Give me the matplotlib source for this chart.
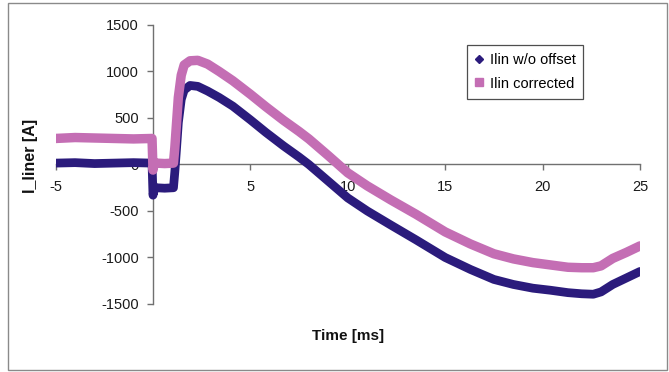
import matplotlib
matplotlib.use("Agg")
import matplotlib.pyplot as plt
from matplotlib.lines import Line2D
from matplotlib.patches import Rectangle

plt.rcParams['font.family'] = ['Liberation Sans', 'DejaVu Sans']

# Time [ms]
blue_t = [-5, -4, -3, -2, -1, -0.05, 0.0, 0.05, 0.15, 0.6, 1.05, 1.12, 1.2, 1.3, 1.45, 1.6, 1.9, 2.3, 2.8,
          3.4, 4.1, 5.0, 5.8, 6.7, 7.5, 8.0, 9.0, 10.0, 11.0, 12.2, 13.5, 15.0, 16.3, 17.5, 18.5, 19.5,
          20.4, 21.3, 22.0, 22.6, 23.0, 23.6, 24.3, 25.0]
# Ilin w/o offset [A]
blue_v = [15, 20, 10, 15, 20, 15, -330, -280, -250, -255, -250, -80, 150, 450, 700, 800, 850, 840, 790,
          720, 627, 480, 344, 200, 80, 0, -180, -360, -500, -650, -810, -1000, -1129, -1236, -1290, -1330,
          -1352, -1378, -1390, -1395, -1370, -1290, -1220, -1150]

pink_t = [-5, -4, -3, -2, -1, -0.05, 0.0, 0.05, 0.15, 0.6, 1.05, 1.12, 1.2, 1.3, 1.45, 1.6, 1.9, 2.3, 2.8,
          3.4, 4.1, 5.0, 5.8, 6.7, 7.5, 8.0, 9.0, 10.0, 11.0, 12.2, 13.5, 15.0, 16.3, 17.5, 18.5, 19.5,
          20.4, 21.3, 22.0, 22.6, 23.0, 23.6, 24.3, 25.0]
# Ilin corrected [A]
pink_v = [280, 290, 285, 280, 275, 280, -60, 0, 15, 10, 15, 180, 420, 720, 960, 1070, 1115, 1120, 1080,
          1000, 900, 755, 620, 475, 355, 275, 95, -90, -230, -380, -535, -725, -855, -960, -1015, -1055,
          -1080, -1105, -1110, -1110, -1090, -1010, -945, -875]

x_ticks = [-5, 0, 5, 10, 15, 20, 25]
y_ticks = [-1500, -1000, -500, 0, 500, 1000, 1500]

BLUE = '#2b1b7c'
PINK = '#c46eb4'

fig = plt.figure(figsize=(6.69, 3.72), dpi=100)
ax = fig.add_axes([0.0831, 0.1828, 0.8736, 0.750])

ax.plot(blue_t, blue_v, color=BLUE, lw=6.3, solid_joinstyle='round', solid_capstyle='round', zorder=3)
ax.plot(pink_t, pink_v, color=PINK, lw=6.8, solid_joinstyle='round', solid_capstyle='round', zorder=4)

ax.set_xlim(-5, 25)
ax.set_ylim(-1500, 1500)
ax.set_xticks(x_ticks)
ax.set_yticks(y_ticks)
ax.set_xticklabels([str(v) for v in x_ticks])
ax.set_yticklabels([str(v) for v in y_ticks])

for s in ['top', 'right']:
    ax.spines[s].set_visible(False)
ax.spines['left'].set_position(('data', 0))
ax.spines['bottom'].set_position(('data', 0))
for s in ['left', 'bottom']:
    ax.spines[s].set_color('#707070')
    ax.spines[s].set_linewidth(1.0)
    ax.spines[s].set_zorder(1)
ax.set_axisbelow(True)
ax.tick_params(axis='both', colors='#707070', labelcolor='#1a1a1a', labelsize=10.5, length=4, width=1.0)
ax.tick_params(axis='x', direction='out', pad=7)
ax.tick_params(axis='y', direction='out', pad=6)
ax.patch.set_visible(False)

fig.text(0.045, 0.58, 'I_liner [A]', rotation=90, ha='center', va='center', fontsize=11.5,
         fontweight='bold', color='#111111')
fig.text(0.52, 0.097, 'Time [ms]', ha='center', va='center', fontsize=11, fontweight='bold',
         color='#111111')

handles = [Line2D([], [], ls='none', marker='D', color=BLUE, markersize=4),
           Line2D([], [], ls='none', marker='s', color=PINK, markersize=6)]
leg = ax.legend(handles, ['Ilin w/o offset', 'Ilin corrected'], loc='upper left',
                bbox_to_anchor=(0.698, 0.879), bbox_transform=fig.transFigure,
                fontsize=10.5, frameon=True, fancybox=False, handlelength=0.6, handletextpad=0.4,
                borderpad=0.55, labelspacing=0.65, borderaxespad=0)
leg.get_frame().set_edgecolor('#222222')
leg.get_frame().set_linewidth(0.9)

fig.patches.append(Rectangle((0.012, 0.006), 0.985, 0.985, transform=fig.transFigure,
                             fill=False, edgecolor='#8a8a8a', lw=1.0))

fig.savefig('out.png', dpi=100)
